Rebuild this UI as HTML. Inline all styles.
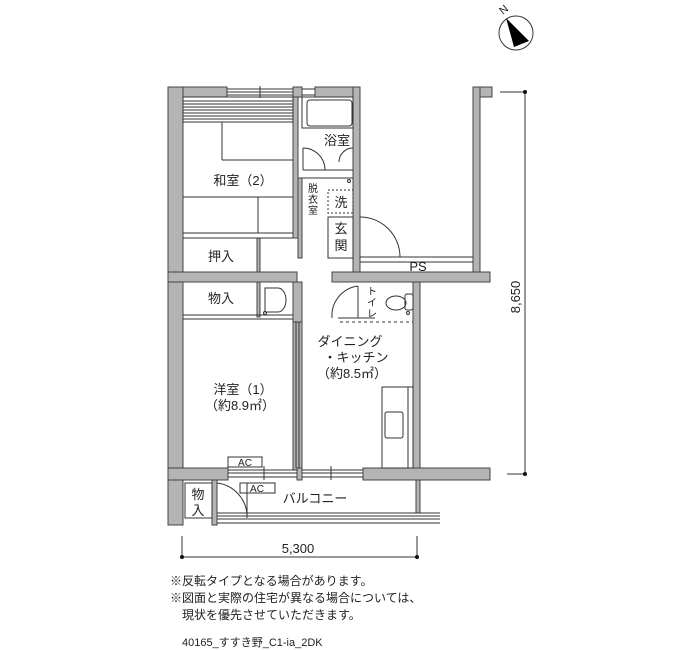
<!DOCTYPE html>
<html><head><meta charset="utf-8"><style>
html,body{margin:0;padding:0;background:#fff;}
svg{display:block;}
text{font-family:"Liberation Sans","Noto Sans CJK JP",sans-serif;fill:#222;}
</style></head><body>
<svg width="700" height="650" viewBox="0 0 700 650" xmlns="http://www.w3.org/2000/svg">
<g fill="#b4b4b4" stroke="#444" stroke-width="1">
<rect x="168" y="87" width="59" height="10"/>
<rect x="293" y="87" width="9" height="10"/>
<rect x="315" y="87" width="45" height="10"/>
<rect x="473" y="87" width="19" height="10"/>
<rect x="168" y="87" width="15" height="396"/>
<rect x="353" y="87" width="7" height="188"/>
<rect x="473" y="87" width="7" height="188"/>
<rect x="168" y="272" width="129" height="10"/>
<rect x="332" y="272" width="158" height="10"/>
<rect x="293" y="97" width="5" height="141"/>
<rect x="298" y="178" width="4" height="80"/>
<rect x="257" y="238" width="3" height="34"/>
<rect x="257" y="282" width="3" height="35"/>
<rect x="293" y="282" width="9" height="40"/>
<rect x="413" y="282" width="7" height="188"/>
<rect x="293" y="322" width="9" height="148"/>
<rect x="168" y="468" width="60" height="12"/>
<rect x="297" y="468" width="5" height="12"/>
<rect x="363" y="468" width="127" height="12"/>
<rect x="168" y="480" width="15" height="45"/>
<rect x="212" y="480" width="5" height="45"/>
<rect x="416" y="480" width="4" height="33"/>
</g>
<g fill="none" stroke="#333" stroke-width="1">
<line x1="227" y1="89" x2="293" y2="89"/><line x1="227" y1="92" x2="293" y2="92"/><line x1="227" y1="95" x2="293" y2="95"/>
<line x1="260" y1="86" x2="260" y2="98"/>
<line x1="302" y1="89" x2="315" y2="89"/><line x1="302" y1="95" x2="315" y2="95"/>
<rect x="183" y="97" width="110" height="25"/>
<path d="M183 101H293M183 104H293M183 107H293M183 110H293M183 113H293M183 116H293M183 119H293"/>
<path d="M222 122V160M222 160H293M183 197H293M258 197V233M183 233H293M183 238H293"/>
<rect x="302" y="97" width="51" height="31"/>
<rect x="307" y="100" width="45" height="26" rx="3"/>
<path d="M303 170H353M303 148V170M303 148A22 22 0 0 1 325 170M353 148A14 14 0 0 0 339 162"/>
<path d="M302 178H353"/>
<circle cx="349" cy="181" r="1.5"/>
<rect x="328" y="190" width="25" height="23" stroke-dasharray="2,2"/>
<rect x="328" y="217" width="25" height="41"/>
<path d="M360 217A40 40 0 0 1 400 257M360 257H473M360 262H473"/>
<path d="M183 315H293M183 319H293"/>
<path d="M265 288H278A8 12 0 0 1 278 312H265Z"/>
<circle cx="265" cy="313" r="1.5"/>
<path d="M332 318A30 30 0 0 1 358 286M358 286V318M338 318H375" />
<path d="M340 322H413" stroke-dasharray="3,3"/>
<ellipse cx="396" cy="303" rx="10" ry="7"/>
<rect x="405" y="294" width="8" height="16" rx="2"/>
<circle cx="408" cy="313" r="1.5"/>
<rect x="382" y="387" width="31" height="81"/>
<rect x="385" y="412" width="18" height="26" rx="2"/>
<path d="M408 387V468"/>
<path d="M296 322V468M299 322V468"/>
<path d="M228 470H297M228 473H297M228 477H297M302 470H363M302 473H363M302 477H363M264 466V480M331 466V480"/>
<rect x="228" y="457" width="34" height="10"/>
<rect x="240" y="483" width="35" height="10"/>
<rect x="185" y="483" width="27" height="35"/>
<path d="M217 483A34 34 0 0 1 247 515M247 483V518"/>
<path d="M217 513H440M217 516H440M217 519H440M217 523H440"/>
<path d="M500 92H525V474M507 474H525"/>
<path d="M182 536V557H417M417 536V557"/>
</g>
<circle cx="525" cy="92" r="2" fill="#111"/><circle cx="525" cy="474" r="2" fill="#111"/>
<circle cx="182" cy="557" r="2" fill="#111"/><circle cx="417" cy="557" r="2" fill="#111"/>
<circle cx="516" cy="33" r="17" fill="none" stroke="#333"/>
<polygon points="506,18 529,41 514,47" fill="#000"/>
<text x="503" y="15" font-size="11" transform="rotate(-40 503 15)">N</text>
<g font-size="13">
<text x="243" y="185" text-anchor="middle">和室（2）</text>
<text x="221" y="261" text-anchor="middle">押入</text>
<text x="221" y="303" text-anchor="middle">物入</text>
<text x="337" y="145" text-anchor="middle">浴室</text>
<text x="341" y="207" text-anchor="middle">洗</text>
<text x="341" y="233" text-anchor="middle">玄</text>
<text x="341" y="250" text-anchor="middle">関</text>
<text x="418" y="271" text-anchor="middle">PS</text>
<text x="350" y="346" text-anchor="middle">ダイニング</text>
<text x="356" y="362" text-anchor="middle">・キッチン</text>
<text x="352" y="378" text-anchor="middle">（約8.5㎡）</text>
<text x="243" y="394" text-anchor="middle">洋室（1）</text>
<text x="240" y="410" text-anchor="middle">（約8.9㎡）</text>
<text x="315" y="503" text-anchor="middle">バルコニー</text>
<text x="198" y="499" text-anchor="middle">物</text>
<text x="198" y="515" text-anchor="middle">入</text>
</g>
<g font-size="10">
<text x="313" y="192" text-anchor="middle">脱</text>
<text x="313" y="203" text-anchor="middle">衣</text>
<text x="313" y="214" text-anchor="middle">室</text>
<text x="372" y="295" text-anchor="middle">ト</text>
<text x="372" y="306" text-anchor="middle">イ</text>
<text x="372" y="317" text-anchor="middle">レ</text>
<text x="245" y="466" text-anchor="middle">AC</text>
<text x="257" y="492" text-anchor="middle">AC</text>
</g>
<text x="298" y="553" font-size="13" text-anchor="middle">5,300</text>
<text x="0" y="0" font-size="13" text-anchor="middle" transform="translate(520 297) rotate(-90)">8,650</text>
<g font-size="12">
<text x="170" y="585">※反転タイプとなる場合があります。</text>
<text x="170" y="602">※図面と実際の住宅が異なる場合については、</text>
<text x="182" y="619">現状を優先させていただきます。</text>
<text x="182" y="646" font-size="11">40165_すすき野_C1-ia_2DK</text>
</g>
</svg>
</body></html>
